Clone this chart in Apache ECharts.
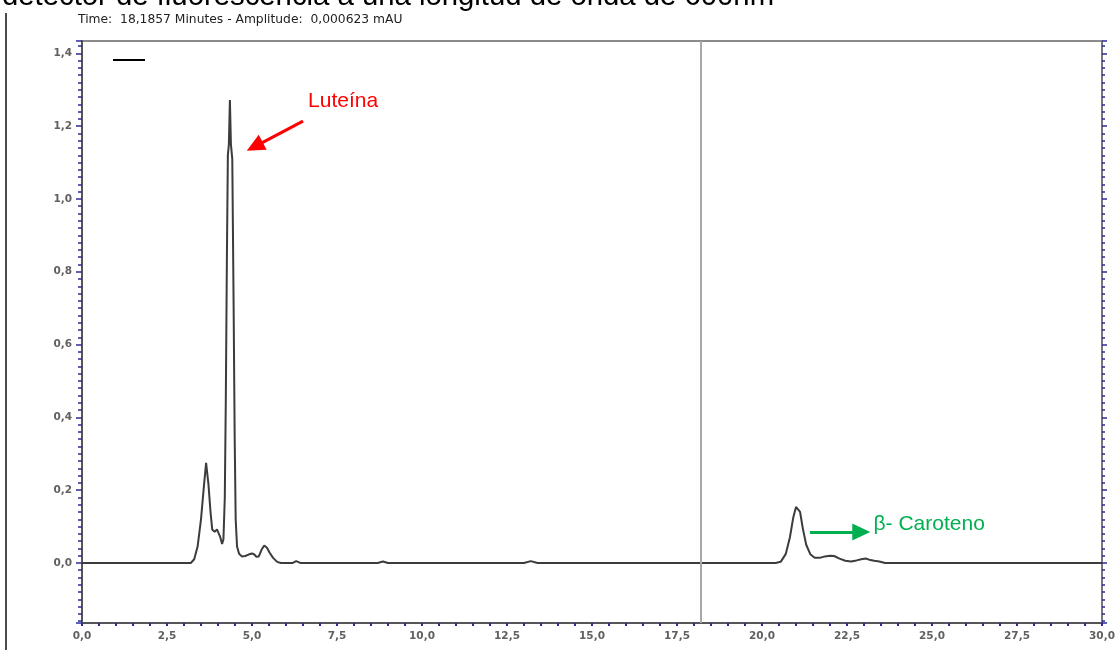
<!DOCTYPE html>
<html>
<head>
<meta charset="utf-8">
<script src="https://cdn.jsdelivr.net/npm/echarts@6/dist/echarts.min.js"></script>
<style>
html,body{margin:0;padding:0;background:#fff;}
#c{width:1116px;height:650px;}
</style>
</head>
<body>
<div id="c"></div>
<script>
// Retention time (minutes) and amplitude (mAU)
var times = [0, 3.20, 3.30, 3.40, 3.50, 3.58, 3.65, 3.72, 3.78, 3.83, 3.90, 3.97, 4.02, 4.07, 4.12, 4.16,
  4.20, 4.23, 4.26, 4.29, 4.32, 4.35, 4.38, 4.42, 4.46, 4.49, 4.52, 4.56, 4.62, 4.70, 4.80, 4.90,
  5.00, 5.06, 5.13, 5.20, 5.28, 5.36, 5.44, 5.52, 5.62, 5.74, 5.85, 6.20, 6.30, 6.42, 8.70, 8.85,
  9.00, 13.00, 13.20, 13.40, 20.40, 20.55, 20.70, 20.82, 20.92, 21.00, 21.05, 21.12, 21.20, 21.30,
  21.42, 21.55, 21.70, 21.85, 22.00, 22.12, 22.28, 22.45, 22.62, 22.78, 22.92, 23.05, 23.15, 23.30,
  23.45, 23.62, 30.0];
var amps = [0, 0, 0.010, 0.045, 0.120, 0.205, 0.275, 0.215, 0.140, 0.092, 0.086, 0.092, 0.090, 0.070, 0.052, 0.065,
  0.180, 0.450, 0.820, 1.120, 1.150, 1.272, 1.150, 1.110, 0.700, 0.350, 0.120, 0.045, 0.025, 0.018, 0.019, 0.023,
  0.026, 0.024, 0.017, 0.018, 0.036, 0.048, 0.042, 0.028, 0.014, 0.003, 0, 0, 0.005, 0, 0, 0.004,
  0, 0, 0.005, 0, 0, 0.003, 0.025, 0.070, 0.125, 0.154, 0.157, 0.140, 0.095, 0.050,
  0.024, 0.014, 0.014, 0.018, 0.020, 0.019, 0.012, 0.006, 0.004, 0.007, 0.010, 0.012, 0.009, 0.006,
  0.004, 0, 0];

var xTickLabels = ['0,0','2,5','5,0','7,5','10,0','12,5','15,0','17,5','20,0','22,5','25,0','27,5','30,0'];
var cursorTime = 18.1857;
var headerText = 'Time:  18,1857 Minutes - Amplitude:  0,000623 mAU';
var titleText = 'detector de fluorescencia a una longitud de onda de 600nm';
var luteinaLabel = 'Luteína';
var caroteneLabel = 'β- Caroteno';
var luteinaArrow = [[6.50, 1.214], [5.08, 1.144]];
var luteinaTextAt = [6.65, 1.268];
var caroteneArrow = [[21.41, 0.085], [22.92, 0.085]];
var caroteneTextAt = [23.28, 0.107];

var seriesData = times.map(function (t, i) { return [t, amps[i]]; });

function yFmt(v) {
  var k = v * 5;
  if (Math.abs(k - Math.round(k)) < 1e-6) return (Math.round(k) / 5).toFixed(1).replace('.', ',');
  return '';
}

var tickBlue = '#2b2b9a';
var labelStyle = {color: '#606060', fontSize: 10.5, fontWeight: 'bold', fontFamily: 'DejaVu Sans, Verdana, sans-serif'};

var chart = echarts.init(document.getElementById('c'), null, {renderer: 'canvas'});
chart.setOption({
  animation: false,
  backgroundColor: '#fff',
  grid: {left: 82, right: 14, top: 41, bottom: 27, show: true, borderColor: '#666', borderWidth: 1.5,
    containLabel: false, outerBoundsMode: 'none'},
  legend: {
    left: 108, top: 54, itemWidth: 32, itemHeight: 2, icon: 'rect', itemGap: 0,
    formatter: function () { return ''; },
    data: [{name: 'signal', itemStyle: {color: '#000'}}],
    selectedMode: false
  },
  xAxis: {
    type: 'value', min: 0, max: 30, interval: 2.5,
    axisLine: {show: true, onZero: false, lineStyle: {color: '#555', width: 2}},
    axisTick: {show: true, length: 3, lineStyle: {color: tickBlue, width: 2}},
    minorTick: {show: true, splitNumber: 5, length: 3, lineStyle: {color: tickBlue, width: 2}},
    splitLine: {show: false},
    axisLabel: Object.assign({margin: 8, formatter: function (v) {
      var i = Math.round(v / 2.5); return xTickLabels[i] || '';
    }}, labelStyle)
  },
  yAxis: [{
    type: 'value', min: -0.165, max: 1.434, splitNumber: 8,
    axisLine: {show: true, onZero: false, lineStyle: {color: '#555', width: 2}},
    axisTick: {show: true, length: 6, lineStyle: {color: tickBlue, width: 1.5}},
    minorTick: {show: true, splitNumber: 10, length: 4, lineStyle: {color: tickBlue, width: 1.5}},
    splitLine: {show: false},
    axisLabel: Object.assign({margin: 10, formatter: yFmt, showMinLabel: false, showMaxLabel: false}, labelStyle)
  }, {
    type: 'value', min: -0.165, max: 1.434, splitNumber: 8, position: 'right',
    axisLine: {show: true, onZero: false, lineStyle: {color: '#777', width: 2}},
    axisTick: {show: true, length: 5, lineStyle: {color: tickBlue, width: 1.5}},
    minorTick: {show: true, splitNumber: 10, length: 3, lineStyle: {color: tickBlue, width: 1.5}},
    splitLine: {show: false},
    axisLabel: {show: false}
  }],
  graphic: [
    {type: 'text', left: 2, top: -18, silent: true,
      style: {text: titleText, fill: '#000', font: '29.3px "Liberation Sans", Arial, sans-serif'}},
    {type: 'text', left: 78, top: 14, silent: true,
      style: {text: headerText, fill: '#222', font: '12.3px "DejaVu Sans", Verdana, sans-serif'}},
    {type: 'line', silent: true, shape: {x1: 6, y1: 13, x2: 6, y2: 650}, style: {stroke: '#111', lineWidth: 1.5}}
  ],
  series: [{
    name: 'signal', type: 'line', data: seriesData, showSymbol: false, symbol: 'none',
    lineStyle: {color: '#3c3c3c', width: 2}, itemStyle: {color: '#3c3c3c'},
    z: 3,
    markLine: {
      silent: true, animation: false, symbol: 'none',
      label: {show: false},
      data: [
        {xAxis: cursorTime, lineStyle: {color: '#a8a8a8', width: 2, type: 'solid'}},
        [{coord: luteinaArrow[0], symbol: 'none', lineStyle: {color: '#ff0000', width: 3, type: 'solid'}},
         {coord: luteinaArrow[1], symbol: 'triangle', symbolSize: [17, 18]}],
        [{coord: caroteneArrow[0], symbol: 'none', lineStyle: {color: '#00b050', width: 3, type: 'solid'}},
         {coord: caroteneArrow[1], symbol: 'triangle', symbolSize: [17, 18]}]
      ]
    },
    markPoint: {
      silent: true, animation: false, symbol: 'circle', symbolSize: 0,
      data: [
        {coord: luteinaTextAt, label: {show: true, position: 'right', distance: 0, formatter: luteinaLabel,
          color: '#ff0000', fontSize: 21, fontFamily: 'Liberation Sans, Arial, sans-serif'}},
        {coord: caroteneTextAt, label: {show: true, position: 'right', distance: 0, formatter: caroteneLabel,
          color: '#00b050', fontSize: 21, fontFamily: 'Liberation Sans, Arial, sans-serif'}}
      ]
    }
  }]
});
</script>
</body>
</html>
